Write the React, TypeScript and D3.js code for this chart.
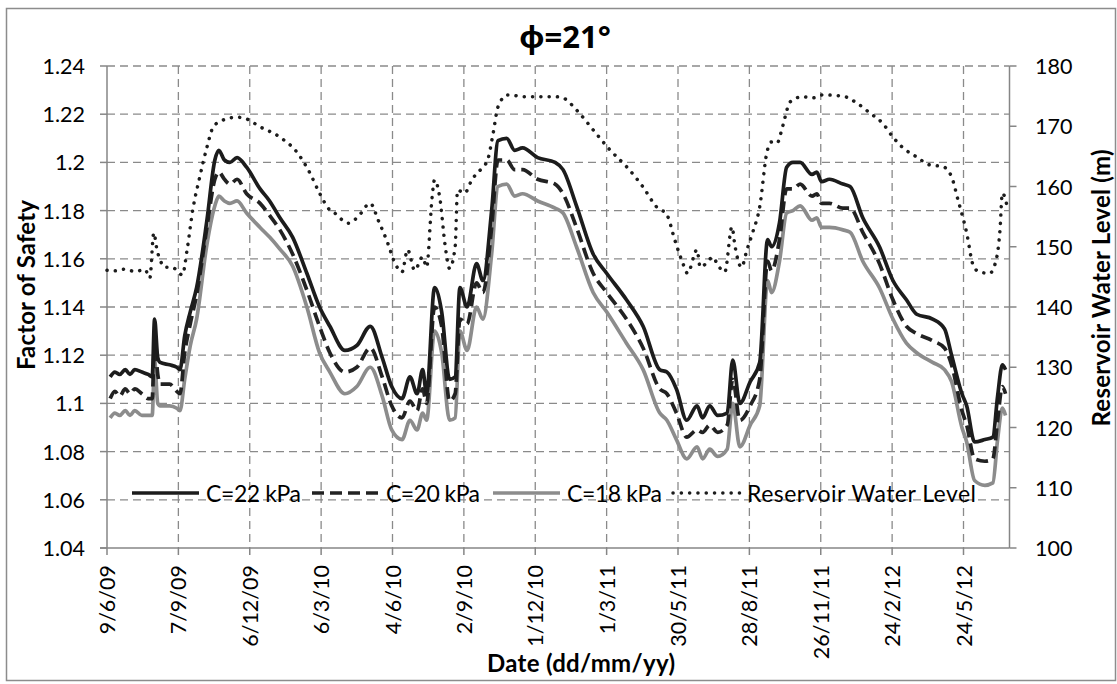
import React from "react";
import * as d3 from "d3";

// ---------- data ----------
const startLabel = "9/6/09";
const endLabel = "21/7/12";
const xTickLabels = ["9/6/09", "7/9/09", "6/12/09", "6/3/10", "4/6/10", "2/9/10", "1/12/10", "1/3/11", "30/5/11", "28/8/11", "26/11/11", "24/2/12", "24/5/12"];
const fsTicks = [1.04, 1.06, 1.08, 1.1, 1.12, 1.14, 1.16, 1.18, 1.2, 1.22, 1.24];
const fsTickLabels = ["1.04", "1.06", "1.08", "1.1", "1.12", "1.14", "1.16", "1.18", "1.2", "1.22", "1.24"];
const wlTicks = [100, 110, 120, 130, 140, 150, 160, 170, 180];

// day offsets from 9/6/09
const fsDays = [4, 10, 16, 23, 29, 35, 44, 52, 57, 60, 64, 67, 79, 88, 92, 98, 105, 113, 126, 136, 141, 148, 155, 164, 176, 193, 205, 218, 234, 252, 268, 281, 300, 315, 332, 347, 359, 372, 382, 391, 398, 403, 413, 422, 432, 439, 445, 454, 466, 474, 485, 493, 504, 514, 524, 543, 565, 575, 592, 613, 630, 655, 676, 697, 706, 718, 731, 744, 751, 760, 770, 782, 789, 798, 811, 823, 833, 838, 848, 857, 865, 874, 889, 895, 901, 911, 928, 937, 953, 974, 991, 1008, 1021, 1041, 1056, 1065, 1078, 1084, 1094, 1107, 1117, 1123, 1129, 1133];
const fsC22 = [1.111, 1.113, 1.112, 1.114, 1.112, 1.114, 1.113, 1.112, 1.111, 1.135, 1.119, 1.117, 1.116, 1.115, 1.114, 1.128, 1.138, 1.148, 1.176, 1.201, 1.205, 1.201, 1.2, 1.202, 1.198, 1.189, 1.184, 1.177, 1.169, 1.154, 1.14, 1.132, 1.122, 1.124, 1.132, 1.119, 1.107, 1.102, 1.111, 1.104, 1.114, 1.104, 1.148, 1.138, 1.11, 1.111, 1.148, 1.14, 1.158, 1.151, 1.18, 1.209, 1.21, 1.205, 1.206, 1.202, 1.2, 1.197, 1.182, 1.162, 1.154, 1.143, 1.132, 1.114, 1.113, 1.106, 1.093, 1.099, 1.094, 1.099, 1.095, 1.096, 1.118, 1.1, 1.109, 1.117, 1.168, 1.165, 1.175, 1.198, 1.2, 1.2, 1.195, 1.196, 1.192, 1.193, 1.191, 1.19, 1.177, 1.165, 1.151, 1.143, 1.137, 1.135, 1.131, 1.12, 1.104, 1.099, 1.084, 1.085, 1.086, 1.103, 1.116, 1.114];
const fsC20 = [1.102, 1.105, 1.103, 1.106, 1.104, 1.106, 1.104, 1.102, 1.102, 1.126, 1.112, 1.108, 1.108, 1.105, 1.104, 1.121, 1.133, 1.145, 1.173, 1.193, 1.196, 1.193, 1.191, 1.193, 1.187, 1.183, 1.178, 1.172, 1.162, 1.147, 1.132, 1.121, 1.113, 1.115, 1.123, 1.111, 1.099, 1.094, 1.101, 1.097, 1.106, 1.1, 1.14, 1.132, 1.101, 1.104, 1.135, 1.133, 1.15, 1.146, 1.173, 1.201, 1.201, 1.197, 1.197, 1.193, 1.191, 1.187, 1.173, 1.154, 1.146, 1.135, 1.123, 1.106, 1.104, 1.096, 1.086, 1.089, 1.088, 1.091, 1.088, 1.091, 1.11, 1.093, 1.099, 1.11, 1.159, 1.155, 1.168, 1.189, 1.189, 1.191, 1.186, 1.187, 1.183, 1.183, 1.181, 1.181, 1.171, 1.158, 1.143, 1.132, 1.129, 1.126, 1.123, 1.116, 1.097, 1.091, 1.077, 1.076, 1.077, 1.093, 1.107, 1.104];
const fsC18 = [1.094, 1.096, 1.095, 1.097, 1.095, 1.097, 1.095, 1.095, 1.095, 1.118, 1.1, 1.099, 1.099, 1.098, 1.097, 1.11, 1.124, 1.135, 1.166, 1.182, 1.186, 1.184, 1.183, 1.184, 1.179, 1.173, 1.169, 1.164, 1.157, 1.14, 1.121, 1.113, 1.104, 1.107, 1.115, 1.103, 1.089, 1.085, 1.093, 1.089, 1.096, 1.093, 1.13, 1.121, 1.093, 1.094, 1.13, 1.122, 1.14, 1.135, 1.162, 1.19, 1.191, 1.186, 1.187, 1.184, 1.181, 1.179, 1.165, 1.146, 1.138, 1.125, 1.114, 1.096, 1.093, 1.085, 1.077, 1.082, 1.077, 1.081, 1.078, 1.081, 1.1, 1.082, 1.091, 1.099, 1.151, 1.146, 1.159, 1.179, 1.18, 1.182, 1.176, 1.177, 1.173, 1.173, 1.172, 1.171, 1.159, 1.148, 1.135, 1.125, 1.121, 1.117, 1.114, 1.109, 1.09, 1.084, 1.068, 1.066, 1.067, 1.085, 1.098, 1.095];

const wlDays = [0, 10, 23, 35, 48, 54, 59, 63, 67, 73, 82, 88, 95, 101, 108, 117, 126, 134, 146, 164, 176, 193, 218, 240, 256, 268, 281, 287, 304, 316, 332, 342, 354, 363, 372, 379, 388, 398, 403, 410, 413, 420, 426, 432, 439, 442, 451, 460, 473, 480, 487, 493, 505, 527, 565, 575, 592, 613, 634, 655, 676, 693, 706, 716, 720, 726, 732, 744, 748, 756, 764, 770, 779, 788, 792, 800, 807, 814, 823, 832, 838, 845, 850, 855, 861, 877, 890, 902, 928, 945, 962, 978, 991, 1003, 1021, 1037, 1054, 1065, 1073, 1084, 1092, 1100, 1113, 1122, 1126, 1129, 1136];
const wlLevel = [146.1, 146.0, 146.3, 145.9, 146.2, 144.8, 152.3, 149.5, 147.8, 146.6, 146.6, 146.1, 145.3, 149.5, 156.0, 161.6, 166.5, 169.9, 171.0, 171.5, 171.2, 169.9, 168.2, 165.6, 162.2, 158.9, 156.1, 155.6, 153.9, 154.9, 157.2, 154.4, 150.6, 147.3, 145.8, 149.5, 146.1, 148.3, 146.6, 158.3, 161.1, 157.8, 150.6, 146.4, 150.0, 159.4, 158.9, 161.1, 163.1, 164.4, 168.9, 173.2, 175.2, 174.9, 174.9, 174.7, 172.7, 169.4, 166.1, 163.3, 159.9, 156.6, 155.3, 151.1, 149.5, 147.3, 145.6, 149.5, 146.6, 147.3, 148.3, 147.0, 145.8, 153.3, 150.0, 146.6, 149.5, 152.3, 156.6, 165.6, 167.4, 167.2, 169.0, 171.5, 174.0, 174.9, 174.7, 175.2, 175.0, 173.9, 172.2, 170.5, 168.2, 166.5, 164.9, 163.6, 163.3, 161.6, 157.8, 152.3, 147.0, 145.8, 145.6, 148.3, 152.8, 158.9, 156.1];

const legendLabels = ["C=22 kPa", "C=20 kPa", "C=18 kPa", "Reservoir Water Level"];

// ---------- layout ----------
const W = 1117;
const H = 684;
const PL = 107;
const PR = 1009.5;
const PT = 66;
const PB = 548;
const FONT = "Lato, 'Open Sans', 'Liberation Sans', sans-serif";
const GRID = "#8a8a8a";
const AXIS = "#868686";

const parseD = d3.timeParse("%d/%m/%y");

export default function App() {
  const start = parseD(startLabel) as Date;
  const end = parseD(endLabel) as Date;
  const x = d3.scaleTime().domain([start, end]).range([PL, PR]);
  const yL = d3.scaleLinear().domain([1.04, 1.24]).range([PB, PT]);
  const yR = d3.scaleLinear().domain([100, 180]).range([PB, PT]);
  const xTicks = xTickLabels.map((s) => parseD(s) as Date);
  const dayDate = (d: number) => d3.timeDay.offset(start, d);

  const fsLine = (vals: number[]) =>
    d3
      .line<number>()
      .x((_, i) => x(dayDate(fsDays[i])))
      .y((v) => yL(v))
      .curve(d3.curveMonotoneX)(vals) as string;
  const wlPath = d3
    .line<number>()
    .x((_, i) => x(dayDate(wlDays[i])))
    .y((v) => yR(v))
    .curve(d3.curveMonotoneX)(wlLevel) as string;

  const styles = [
    { stroke: "#1c1c1c", dash: undefined as string | undefined, cap: "butt", w: 3.7 },
    { stroke: "#222222", dash: "12 6", cap: "butt", w: 3.7 },
    { stroke: "#8c8c8c", dash: undefined, cap: "butt", w: 3.7 },
    { stroke: "#1c1c1c", dash: "0.1 8.2", cap: "round", w: 3.5 },
  ];
  const legendX = [132, 312, 493, 673];
  const legendTextW = [95, 94, 95, 229];
  const legendY = 493;

  return (
    <svg width={W} height={H} style={{ position: "absolute", left: 0, top: 0, background: "#fff" }} fontFamily={FONT}>
      <rect x={0} y={0} width={W} height={H} fill="#fff" />
      <rect x={6.5} y={8.5} width={1109} height={672} fill="none" stroke="#8c8c8c" strokeWidth={1.5} />

      {/* grid */}
      {fsTicks.slice(1).map((t) => (
        <line key={"h" + t} x1={PL} x2={PR} y1={yL(t)} y2={yL(t)} stroke={GRID} strokeWidth={1.3} strokeDasharray="8 5" />
      ))}
      {xTicks.slice(1).map((d, i) => (
        <line key={"v" + i} x1={x(d)} x2={x(d)} y1={PT} y2={PB} stroke={GRID} strokeWidth={1.3} strokeDasharray="8 5" />
      ))}

      {/* axes */}
      <line x1={PL} x2={PL} y1={PT} y2={PB} stroke={AXIS} strokeWidth={1.5} />
      <line x1={PR} x2={PR} y1={PT} y2={PB} stroke={AXIS} strokeWidth={1.5} />
      <line x1={PL - 7} x2={PR} y1={PB} y2={PB} stroke={AXIS} strokeWidth={1.5} />
      {fsTicks.map((t) => (
        <line key={"lt" + t} x1={PL - 7} x2={PL} y1={yL(t)} y2={yL(t)} stroke={AXIS} strokeWidth={1.5} />
      ))}
      {wlTicks.map((t) => (
        <line key={"rt" + t} x1={PR} x2={PR + 7} y1={yR(t)} y2={yR(t)} stroke={AXIS} strokeWidth={1.5} />
      ))}
      {xTicks.map((d, i) => (
        <line key={"xt" + i} x1={x(d)} x2={x(d)} y1={PB} y2={PB + 7} stroke={AXIS} strokeWidth={1.5} />
      ))}

      {/* tick labels */}
      {fsTicks.map((t, i) => (
        <text key={"ll" + t} x={85} y={yL(t)} textAnchor="end" dominantBaseline="central" fontSize={21.5} fill="#000">
          {fsTickLabels[i]}
        </text>
      ))}
      {wlTicks.map((t) => (
        <text key={"rl" + t} x={1035} y={yR(t)} textAnchor="start" dominantBaseline="central" fontSize={21.5} fill="#000">
          {t}
        </text>
      ))}
      {xTicks.map((d, i) => (
        <text
          key={"xl" + i}
          transform={`translate(${x(d)},${565}) rotate(-90)`}
          textAnchor="end"
          dominantBaseline="central"
          fontSize={21.5}
          fill="#000"
        >
          {xTickLabels[i]}
        </text>
      ))}

      {/* series */}
      <path d={wlPath} fill="none" stroke={styles[3].stroke} strokeWidth={styles[3].w} strokeDasharray={styles[3].dash} strokeLinecap="round" />
      <path d={fsLine(fsC18)} fill="none" stroke={styles[2].stroke} strokeWidth={styles[2].w} strokeLinejoin="round" />
      <path d={fsLine(fsC20)} fill="none" stroke={styles[1].stroke} strokeWidth={styles[1].w} strokeDasharray={styles[1].dash} strokeLinejoin="round" />
      <path d={fsLine(fsC22)} fill="none" stroke={styles[0].stroke} strokeWidth={styles[0].w} strokeLinejoin="round" />

      {/* legend */}
      {legendLabels.map((lab, i) => (
        <g key={lab}>
          <line
            x1={legendX[i]}
            x2={legendX[i] + 67}
            y1={legendY}
            y2={legendY}
            stroke={styles[i].stroke}
            strokeWidth={styles[i].w}
            strokeDasharray={styles[i].dash}
            strokeLinecap={styles[i].cap as any}
          />
          <text
            x={legendX[i] + 74}
            y={legendY}
            dominantBaseline="central"
            fontSize={23}
            textLength={legendTextW[i]}
            lengthAdjust="spacing"
            fill="#000"
          >
            {lab}
          </text>
        </g>
      ))}

      {/* titles */}
      <text x={565} y={48} textAnchor="middle" fontSize={31} fontWeight="bold" fontFamily="'Noto Sans', 'DejaVu Sans', sans-serif" fill="#000">
        ϕ=21°
      </text>
      <text transform="translate(35,285) rotate(-90)" textAnchor="middle" fontSize={24} fontWeight="bold" textLength={170} lengthAdjust="spacing" fill="#000">
        Factor of Safety
      </text>
      <text transform="translate(1110,288) rotate(-90)" textAnchor="middle" fontSize={24} fontWeight="bold" textLength={277} lengthAdjust="spacing" fill="#000">
        Reservoir Water Level (m)
      </text>
      <text x={581} y={672} textAnchor="middle" fontSize={24} fontWeight="bold" textLength={188} lengthAdjust="spacing" fill="#000">
        Date (dd/mm/yy)
      </text>
    </svg>
  );
}
